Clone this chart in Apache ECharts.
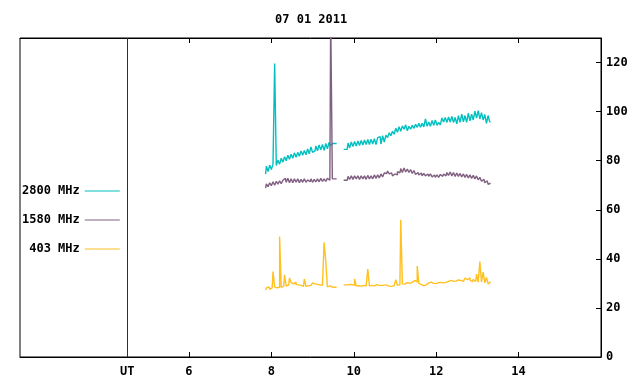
<!DOCTYPE html>
<html>
<head>
<meta charset="utf-8">
<script src="https://cdn.jsdelivr.net/npm/echarts@6/dist/echarts.min.js"></script>
<style>
  html, body { margin: 0; padding: 0; background: #fff; }
  #chart { width: 640px; height: 384px; }
</style>
</head>
<body>
<div id="chart"></div>
<script>
// sampling of the two observing blocks (hours UT)
const seg1Start = 7.86
const seg2Start = 9.84
const step = 0.04
const gapTime = 9.67

const utMark = 4.5
const xLabelValues = [4.5, 6, 8, 10, 12, 14]
const xTickValues = [6, 8, 10, 12, 14]
const yTickValues = [20, 40, 60, 80, 100, 120]
const yLabelValues = [0, 20, 40, 60, 80, 100, 120]

const names = ['2800 MHz', '1580 MHz', '403 MHz']

const f2800a = [74.5, 77.8, 75.6, 78.2, 76.4, 78.6, 119.6, 78, 80.2, 78.6,
  81, 79.4, 81.6, 80, 82.2, 80.6, 82.6, 81, 83.2, 81.4,
  83.4, 81.8, 84, 82.2, 84.2, 82.4, 84.8, 82.8, 85.6, 83.4,
  84, 86, 84, 86.4, 84.4, 86.6, 84.2, 87, 84.8, 87.4,
  86, 87]
const f2800b = [84.6, 87.2, 85.2, 87.6, 85.8, 87.8, 86, 88, 86.2, 88.2,
  86.4, 88.4, 86.6, 88.6, 86.6, 88.8, 86.8, 89, 86.6, 89.4,
  89.8, 86.8, 90.2, 87.6, 90.4, 89.4, 91.4, 90.2, 92, 90.8,
  93.2, 91.6, 93.8, 92, 94.2, 92.8, 94.6, 92.2, 94, 92.8,
  94.4, 93.2, 94.8, 93.6, 95.2, 93.6, 95.2, 93.8, 97, 94,
  95.8, 94, 96.4, 94.4, 96.6, 94.4, 95.6, 94.6, 97.4, 95.8,
  97.6, 95.6, 97.8, 95.8, 98, 95.6, 97.6, 95, 98.4, 95.6,
  99, 95.8, 98.4, 95.6, 99.4, 96.2, 99, 96.6, 100.2, 97.4,
  100.4, 97, 99.6, 96.6, 98.8, 95.2, 98.4, 95.8]

const f1580a = [68.8, 70.6, 69.4, 71, 69.8, 71.4, 70, 71.6, 70.4, 71.8,
  70.6, 72, 72.8, 71.2, 72.8, 71, 72.6, 71, 72.6, 71.2,
  72.6, 71, 72.4, 71.2, 72.6, 71.2, 72.2, 71.4, 72.6, 71.2,
  72.4, 71.4, 72.6, 71.4, 72.8, 71.6, 72.6, 71.6, 72.8, 72,
  140, 72.6]
const f1580b = [72, 73.6, 72.4, 73.8, 72.4, 73.8, 72.6, 73.8, 72.4, 73.8,
  72.6, 73.8, 72.4, 74, 72.6, 73.8, 72.6, 74.2, 72.8, 74.2,
  73, 74.6, 73.4, 75, 74.8, 75.8, 74.6, 75, 73.8, 74.6,
  74.2, 75.6, 75, 76.8, 75.2, 77, 75.4, 76.6, 75.2, 76.4,
  74.8, 76, 74.4, 75.2, 74.2, 75, 73.8, 74.8, 73.8, 74.6,
  73.6, 74.6, 73.4, 74.2, 73.2, 74.2, 73.2, 74.4, 73.6, 74.6,
  73.8, 75.2, 74, 75.4, 73.8, 75.2, 73.6, 75, 73.6, 74.8,
  73.4, 74.6, 73.2, 74.4, 73, 74.2, 72.8, 74, 72.6, 73.8,
  72.2, 73.2, 71.6, 72.4, 71, 71.8, 70.4, 70.8]

const f403a = [27.3, 28.2, 28.6, 27.6, 28.2, 34.8, 28.5, 28.2, 28.4, 49.1,
  28.4, 28.8, 33.5, 28.9, 29.4, 32.2, 30.3, 29.8, 30.5, 29.5,
  29.4, 29.2, 29.3, 28.8, 31.8, 28.8, 29.0, 29.2, 29.6, 30.2,
  29.8, 29.6, 29.4, 29.4, 29.2, 29.5, 46.7, 39.2, 28.6, 29.0,
  28.5, 28.3]
const f403b = [29.4, 29.6, 29.3, 29.5, 29.2, 31.8, 29, 29.1, 28.9, 29,
  29.2, 28.9, 29.1, 35.8, 29, 29.2, 29, 29.3, 29.5, 29.2,
  29.3, 29.2, 29.3, 29.2, 29.3, 28.9, 29, 28.8, 29.1, 29.4,
  31.5, 29.2, 29.5, 55.9, 29.8, 29.7, 30.3, 29.8, 30, 30.4,
  30.8, 31.2, 30.6, 37.1, 30, 29.5, 29.1, 29, 29.4, 30.2,
  29.8, 30.5, 30, 30.6, 29.9, 30.3, 30.1, 30.4, 30.2, 30.6,
  30.4, 30.8, 30.5, 31.2, 30.8, 31.3, 30.9, 31.4, 31, 31.2,
  30.8, 31.6, 32.2, 31.5, 32.3, 31.3, 30.7, 31.6, 30.8, 33.8,
  30.5, 38.9, 30.6, 34.6, 30.2, 32.4, 29.8, 30.6]

const colors = ['#00c0c0', '#806080', '#ffc020']
const fontFamily = '"DejaVu Sans Mono", "Liberation Mono", monospace'

function toPoints(a, b) {
  const out = []
  a.forEach((v, i) => out.push([+(seg1Start + i * step).toFixed(2), v]))
  out.push([gapTime, null])
  b.forEach((v, i) => out.push([+(seg2Start + i * step).toFixed(2), v]))
  return out
}

const chart = echarts.init(document.getElementById('chart'), null, { renderer: 'canvas' })

const labelStyle = { color: '#000', fontFamily: fontFamily, fontSize: 12, fontWeight: 'bold' }

function dataSeries(i, a, b) {
  return {
    name: names[i],
    type: 'line',
    step: 'middle',
    data: toPoints(a, b),
    showSymbol: false,
    connectNulls: false,
    color: colors[i],
    lineStyle: { width: 1.4, color: colors[i] }
  }
}

const s2800 = dataSeries(0, f2800a, f2800b)
s2800.markLine = {
  silent: true,
  symbol: 'none',
  label: { show: false },
  lineStyle: { color: '#a00000', width: 1, type: 'solid' },
  data: [{ xAxis: utMark }]
}

chart.setOption({
  animation: false,
  backgroundColor: '#fff',
  title: {
    text: '07 01 2011',
    left: 275,
    top: 14,
    padding: 0,
    textStyle: { color: '#000', fontFamily: fontFamily, fontSize: 12, fontWeight: 'bold' }
  },
  legend: {
    orient: 'vertical',
    left: 17,
    top: 180,
    align: 'right',
    itemGap: 17,
    itemWidth: 35,
    itemHeight: 1,
    icon: 'rect',
    formatter: name => name.padStart(8, ' '),
    textStyle: labelStyle,
    data: names
  },
  grid: {
    left: 20,
    right: 39,
    top: 38,
    bottom: 27,
    show: true,
    borderColor: '#000',
    borderWidth: 1
  },
  xAxis: [{
    type: 'value',
    min: 1.9,
    max: 16,
    position: 'bottom',
    splitLine: { show: false },
    axisLine: { show: true, lineStyle: { color: '#000', width: 1 } },
    axisTick: { show: true, inside: true, length: 5, customValues: xTickValues, lineStyle: { color: '#000' } },
    axisLabel: {
      show: true,
      margin: 9,
      customValues: xLabelValues,
      formatter: v => (v === utMark ? 'UT' : String(v)),
      ...labelStyle
    }
  }, {
    type: 'value',
    min: 1.9,
    max: 16,
    position: 'top',
    splitLine: { show: false },
    axisLine: { show: true, lineStyle: { color: '#000', width: 1 } },
    axisTick: { show: true, inside: true, length: 5, customValues: xTickValues, lineStyle: { color: '#000' } },
    axisLabel: { show: false }
  }],
  yAxis: {
    type: 'value',
    min: 0,
    max: 130,
    position: 'right',
    splitLine: { show: false },
    axisLine: { show: true, lineStyle: { color: '#000', width: 1 } },
    axisTick: { show: true, inside: true, length: 5, customValues: yTickValues, lineStyle: { color: '#000' } },
    axisLabel: { show: true, margin: 5, customValues: yLabelValues, ...labelStyle }
  },
  series: [
    s2800,
    dataSeries(1, f1580a, f1580b),
    dataSeries(2, f403a, f403b)
  ]
})
</script>
</body>
</html>
